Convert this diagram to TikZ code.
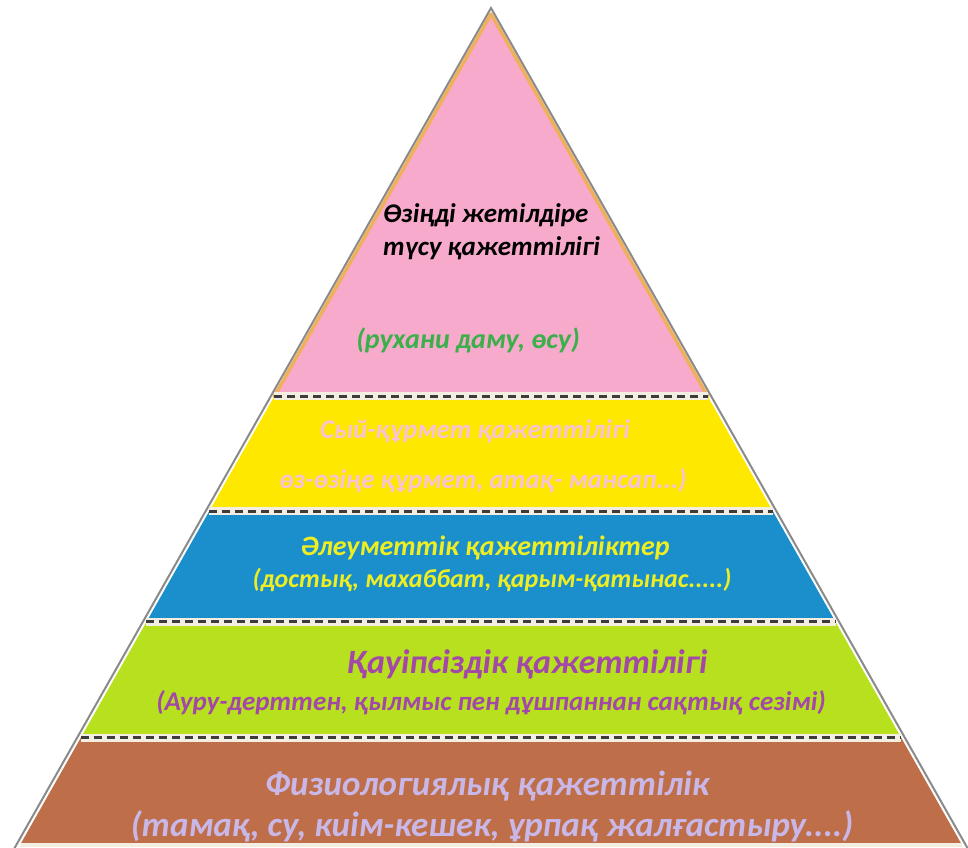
\documentclass[tikz,border=0pt]{standalone}
\usepackage{fontspec}
\setmainfont{Carlito}
\usetikzlibrary{calc}

\definecolor{pinklevel}{HTML}{F7AACB}
\definecolor{yellowlevel}{HTML}{FFE800}
\definecolor{bluelevel}{HTML}{1A8FCB}
\definecolor{greenlevel}{HTML}{B7E01E}
\definecolor{brownlevel}{HTML}{BE6E48}
\definecolor{rimgray}{HTML}{8A8A8A}
\definecolor{rimorange}{HTML}{F0B05A}
\definecolor{seamgray}{HTML}{3C3C3C}
\definecolor{seamlight}{HTML}{F4EEE2}
\definecolor{txtgreen}{HTML}{3AAF4A}
\definecolor{txtpink}{HTML}{F8C4D2}
\definecolor{txtyellow}{HTML}{EEEE22}
\definecolor{txtpurple}{HTML}{A347A8}
\definecolor{txtlilac}{HTML}{C9B7E8}

\begin{document}
\begin{tikzpicture}[x=1pt, y=-1pt,
    seam/.style={seamgray, line width=3pt, dash pattern=on 8pt off 5pt},
    seamback/.style={seamlight, line width=8pt},
    lbl/.style={inner sep=0pt, align=center, font=\fontsize{#1}{#1}\selectfont\bfseries\itshape},
    lbl/.default=26]
    \useasboundingbox (0,0) rectangle (968,847);

    % Define corners of the pyramid
    \coordinate (A) at (491,14);
    \coordinate (L) at (20,845);
    \coordinate (R) at (962,845);
    \coordinate (L1) at ($(A)!0.4597!(L)$);
    \coordinate (R1) at ($(A)!0.4597!(R)$);
    \coordinate (L2) at ($(A)!0.5981!(L)$);
    \coordinate (R2) at ($(A)!0.5981!(R)$);
    \coordinate (L3) at ($(A)!0.7316!(L)$);
    \coordinate (R3) at ($(A)!0.7316!(R)$);
    \coordinate (L4) at ($(A)!0.8712!(L)$);
    \coordinate (R4) at ($(A)!0.8712!(R)$);

    % Fill the levels
    \fill[brownlevel] (L4) -- (R4) -- (R) -- (L) -- cycle;
    \fill[greenlevel] (L3) -- (R3) -- (R4) -- (L4) -- cycle;
    \fill[bluelevel] (L2) -- (R2) -- (R3) -- (L3) -- cycle;
    \fill[yellowlevel] (L1) -- (R1) -- (R2) -- (L2) -- cycle;
    \draw[rimorange, line width=3.5pt, fill=pinklevel, line join=round] (A) -- (R1) -- (L1) -- cycle;

    % Outer rim
    \draw[rimgray, line width=2pt] (14,849) -- (491,8) -- (968,849);

    % Dashed seams between levels
    \foreach \n in {1,2,3,4} {
        \draw[seamback] (L\n) -- (R\n);
        \draw[seam] (L\n) -- (R\n);
    }
    \draw[seamlight, line width=4pt] (L) -- (R);

    % Labels of the levels
    \node[lbl=27, anchor=west, align=left, text=black,
          font=\fontsize{27}{33}\selectfont\bfseries\itshape] (self) at (383,232)
        {Өзіңді жетілдіре\\түсу қажеттілігі};
    \node[lbl=28, text=txtgreen] (selfnote) at (468,340) {(рухани даму, өсу)};
    \node[lbl=27, text=txtpink] (esteem) at (475,431) {Сый-құрмет қажеттілігі};
    \node[lbl=27, text=txtpink] (esteemnote) at (483,481) {өз-өзіңе құрмет, атақ- мансап...)};
    \node[lbl=28, text=txtyellow] (social) at (485,548) {Әлеуметтік қажеттіліктер};
    \node[lbl=26, text=txtyellow] (socialnote) at (492,580) {(достық, махаббат, қарым-қатынас.....)};
    \node[lbl=34, text=txtpurple] (safety) at (527,664) {Қауіпсіздік қажеттілігі};
    \node[lbl=27, text=txtpurple] (safetynote) at (491,703) {(Ауру-дерттен, қылмыс пен дұшпаннан сақтық сезімі)};
    \node[lbl=35, text=txtlilac] (body) at (487,786) {Физиологиялық қажеттілік};
    \node[lbl=35, text=txtlilac] (bodynote) at (492,826) {(тамақ, су, киім-кешек, ұрпақ жалғастыру....)};

\end{tikzpicture}
\end{document}
